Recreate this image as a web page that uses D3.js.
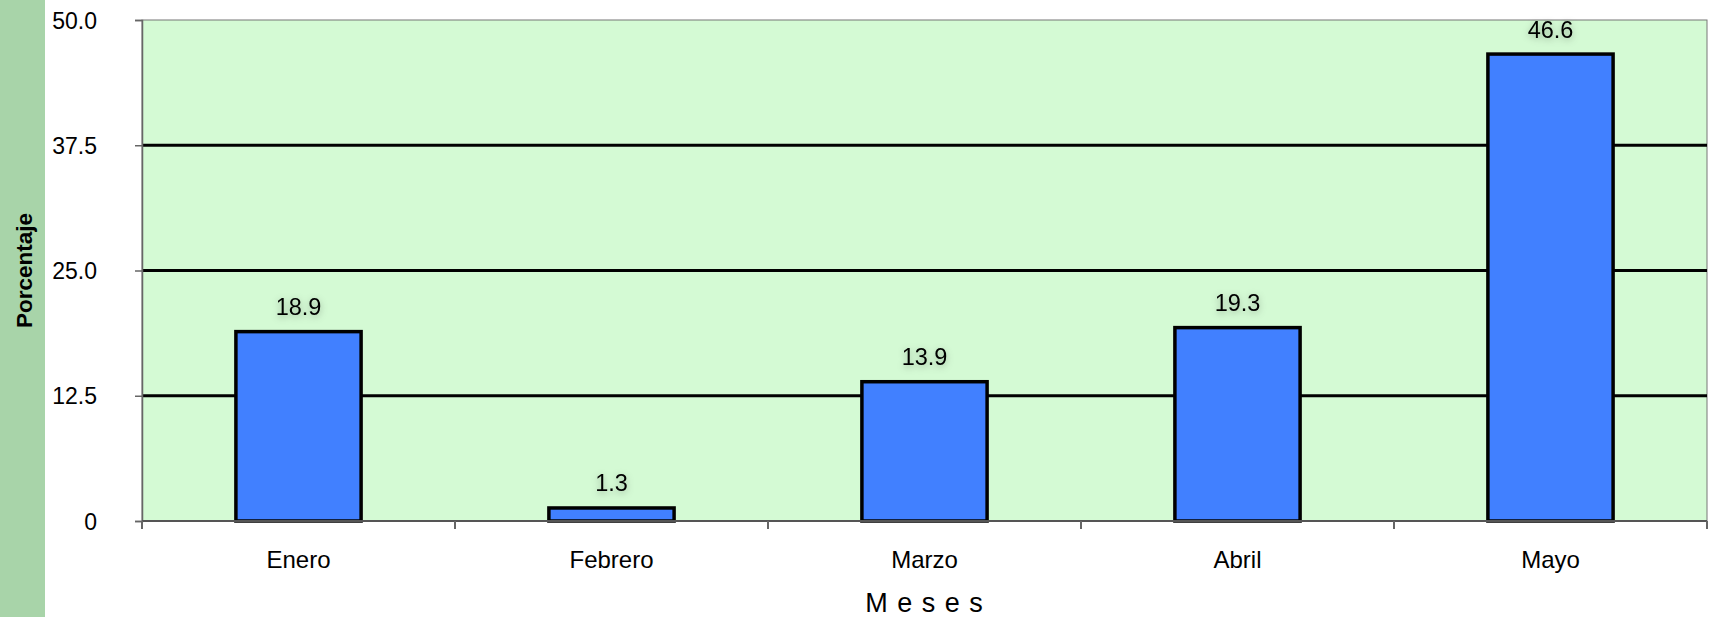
<!DOCTYPE html>
<html>
<head>
<meta charset="utf-8">
<script src="https://cdn.jsdelivr.net/npm/d3@7"></script>
<style>
  html, body { margin: 0; padding: 0; background: #ffffff; }
  svg { display: block; }
  text { font-family: "Liberation Sans", Arial, Helvetica, sans-serif; fill: #000; }
</style>
</head>
<body>
<svg id="chart" width="1710" height="617"></svg>
<script>
// ---- data ----
const categories = ["Enero", "Febrero", "Marzo", "Abril", "Mayo"];
const values = [18.9, 1.3, 13.9, 19.3, 46.6];
const valueLabels = ["18.9", "1.3", "13.9", "19.3", "46.6"];
const yTicks = [0, 12.5, 25, 37.5, 50];
const yTickLabels = ["0", "12.5", "25.0", "37.5", "50.0"];
const yTitle = "Porcentaje";
const xTitle = "M e s e s";

// ---- layout ----
const W = 1710, H = 617;
const plot = { left: 142, right: 1707, top: 20, bottom: 521 };

const svg = d3.select("#chart");

// filter for label shadow
const defs = svg.append("defs");
const f = defs.append("filter").attr("id", "shadow").attr("x", "-30%").attr("y", "-50%").attr("width", "160%").attr("height", "220%");
f.append("feDropShadow").attr("dx", 0).attr("dy", 2).attr("stdDeviation", 3.5)
  .attr("flood-color", "#000").attr("flood-opacity", 0.3);

// left strip
svg.append("rect").attr("x", 0).attr("y", 0).attr("width", 45).attr("height", H).attr("fill", "#A8D4A9");

const x = d3.scaleBand().domain(categories).range([plot.left, plot.right])
  .paddingInner(0.6).paddingOuter(0.3);
const y = d3.scaleLinear().domain([0, 50]).range([plot.bottom, plot.top]);

// plot background
svg.append("rect").attr("x", plot.left).attr("y", plot.top)
  .attr("width", plot.right - plot.left).attr("height", plot.bottom - plot.top)
  .attr("fill", "#D4FAD4").attr("stroke", "#777").attr("stroke-width", 1);

// gridlines
svg.append("g").selectAll("line").data(yTicks.filter(d => d > 0 && d < 50)).join("line")
  .attr("x1", plot.left).attr("x2", plot.right)
  .attr("y1", d => y(d)).attr("y2", d => y(d))
  .attr("stroke", "#000").attr("stroke-width", 3);

// y axis
const yAxis = d3.axisLeft(y).tickValues(yTicks).tickSize(7)
  .tickFormat((d, i) => yTickLabels[i]);
const gy = svg.append("g").attr("transform", `translate(${plot.left},0)`).call(yAxis);
gy.select(".domain").attr("stroke", "#666").attr("stroke-width", 1.5);
gy.selectAll(".tick line").attr("stroke", "#666").attr("stroke-width", 1.5);
gy.selectAll(".tick text").attr("x", -45).attr("dy", "0.35em")
  .style("font-size", "23px").style("font-family", "Liberation Sans, Arial, sans-serif").attr("fill", "#000");

// bars
svg.append("g").selectAll("rect").data(values).join("rect")
  .attr("x", (d, i) => x(categories[i]))
  .attr("y", d => y(d))
  .attr("width", x.bandwidth())
  .attr("height", d => y(0) - y(d))
  .attr("fill", "#4180FF").attr("stroke", "#000").attr("stroke-width", 3.5);

// x axis line + boundary ticks
const bounds = d3.range(categories.length + 1).map(i => plot.left + i * x.step());
svg.append("line").attr("x1", plot.left).attr("x2", plot.right)
  .attr("y1", y(0)).attr("y2", y(0)).attr("stroke", "#555").attr("stroke-width", 2);
svg.append("g").selectAll("line").data(bounds).join("line")
  .attr("x1", d => d).attr("x2", d => d)
  .attr("y1", y(0)).attr("y2", y(0) + 8)
  .attr("stroke", "#666").attr("stroke-width", 2);

// category labels
svg.append("g").selectAll("text").data(categories).join("text")
  .attr("x", d => x(d) + x.bandwidth() / 2).attr("y", 568)
  .attr("text-anchor", "middle").style("font-size", "24px").text(d => d);

// value labels
svg.append("g").selectAll("text").data(values).join("text")
  .attr("x", (d, i) => x(categories[i]) + x.bandwidth() / 2)
  .attr("y", d => y(d) - 16.5)
  .attr("text-anchor", "middle").style("font-size", "23.5px")
  .attr("fill", "#111").attr("filter", "url(#shadow)")
  .text((d, i) => valueLabels[i]);

// axis titles
svg.append("text").attr("transform", `translate(32,${(plot.top + plot.bottom) / 2}) rotate(-90)`)
  .attr("text-anchor", "middle").style("font-size", "22.5px").style("font-weight", "bold").text(yTitle);
svg.append("text").attr("x", (plot.left + plot.right) / 2).attr("y", 612)
  .attr("text-anchor", "middle").style("font-size", "27px").style("letter-spacing", "1px").text(xTitle);
</script>
</body>
</html>
